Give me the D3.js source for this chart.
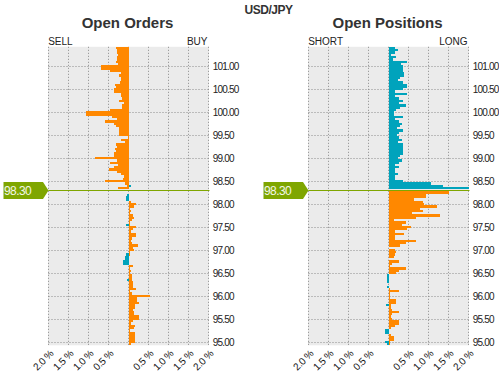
<!DOCTYPE html>
<html>
<head>
<meta charset="utf-8">
<script src="https://cdn.jsdelivr.net/npm/d3@7"></script>
<style>
  body { margin: 0; background: #fff; }
  text { font-family: "Liberation Sans", Arial, sans-serif; }
</style>
</head>
<body>
<svg id="js-svg" width="499" height="371"></svg>
<script>
const pair = "USD/JPY";
const currentPrice = 98.30;
// 0.05 buckets, from 101.40 down to 94.95
const bucketPrices = d3.range(130).map((i) => +(101.4 - i * 0.05).toFixed(2));
const priceTicks = [95, 95.5, 96, 96.5, 97, 97.5, 98, 98.5, 99, 99.5, 100, 100.5, 101];
const pctTicks = [-2, -1.5, -1, -0.5, 0.5, 1, 1.5, 2];

// open orders, % of total per bucket
const ordersSell = [
  0.31, 0.28, 0.29, 0.27, 0.30, 0.29, 0.31, 0.27, 0.68, 0.68,
  0.475, 0.20, 0.23, 0.18, 0.20, 0.21, 0.33, 0.31, 0.375, 0.36,
  0.19, 0.19, 0.16, 0.23, 0.125, 0.16, 0.16, 0.46, 1.06, 1.06,
  0.42, 0.28, 0.58, 0.375, 0.32, 0.23, 0.23, 0.23, 0.23, 0.01,
  0.18, 0.09, 0.31, 0.28, 0.33, 0.31, 0.36, 0.36, 0.83, 0.29,
  0.46, 0.27, 0.36, 0.48, 0.28, 0.19, 0.125, 0.13, 0.58, 0.08,
  0.04, 0.27, 0, 0, 0.03, 0.06, 0.06, 0, 0, 0,
  0, 0, 0, 0, 0, 0, 0, 0.06, 0, 0,
  0, 0, 0, 0, 0, 0, 0, 0, 0, 0,
  0.06, 0.10, 0.10, 0.13, 0.13, 0, 0, 0, 0, 0,
  0, 0.04, 0, 0, 0, 0, 0, 0, 0, 0,
  0, 0, 0, 0, 0, 0, 0, 0, 0, 0,
  0, 0, 0, 0, 0, 0, 0, 0, 0, 0,
];
const ordersBuy = [
  0, 0, 0, 0, 0, 0, 0, 0, 0, 0,
  0, 0, 0, 0, 0, 0, 0, 0, 0, 0,
  0, 0, 0, 0, 0, 0, 0, 0, 0, 0,
  0, 0, 0, 0, 0, 0, 0, 0, 0, 0,
  0, 0, 0, 0, 0, 0, 0, 0, 0, 0,
  0, 0, 0, 0, 0, 0, 0, 0, 0, 0,
  0.06, 0, 0, 0, 0, 0, 0, 0.05, 0.19, 0.125,
  0.03, 0.07, 0.04, 0.11, 0.14, 0.08, 0.04, 0.04, 0.19, 0.11,
  0.07, 0.19, 0.19, 0.08, 0.07, 0.08, 0.23, 0.12, 0.125, 0.04,
  0.03, 0.02, 0.02, 0.02, 0.02, 0.11, 0.04, 0.07, 0.04, 0.08,
  0.09, 0.08, 0.10, 0.10, 0.12, 0.19, 0.04, 0.08, 0.54, 0.21,
  0.21, 0.25, 0.17, 0.15, 0.12, 0.14, 0.14, 0.27, 0.27, 0.12,
  0.07, 0.17, 0.14, 0.04, 0.17, 0.15, 0.15, 0.17, 0.17, 0.07,
];

// open positions, % of total per bucket
const positionsShort = [
  0, 0, 0, 0, 0, 0, 0, 0, 0, 0,
  0, 0, 0, 0, 0, 0, 0, 0, 0, 0,
  0, 0, 0, 0, 0, 0, 0, 0, 0, 0,
  0, 0, 0, 0, 0, 0, 0, 0, 0, 0,
  0, 0, 0, 0, 0, 0, 0, 0, 0, 0,
  0, 0, 0, 0, 0, 0, 0, 0, 0, 0,
  0, 0, 0, 0, 0, 0, 0, 0, 0, 0,
  0, 0, 0, 0, 0, 0, 0, 0, 0, 0,
  0, 0, 0, 0, 0, 0, 0, 0, 0, 0,
  0, 0, 0, 0, 0, 0, 0, 0, 0, 0.04,
  0.04, 0.04, 0.04, 0, 0.03, 0, 0, 0, 0, 0,
  0, 0, 0.06, 0, 0, 0, 0, 0, 0, 0,
  0, 0, 0, 0.08, 0.08, 0, 0, 0, 0.08, 0.03,
];
const positionsLong = [
  0.17, 0.23, 0.17, 0.07, 0.18, 0.10, 0.46, 0.32, 0.35, 0.37,
  0.37, 0.38, 0.38, 0.29, 0.23, 0.37, 0.46, 0.46, 0.37, 0.17,
  0.46, 0.15, 0.25, 0.37, 0.25, 0.43, 0.29, 0.18, 0.125, 0.125,
  0.37, 0.15, 0.25, 0.33, 0.29, 0.21, 0.35, 0.25, 0.21, 0.25,
  0.33, 0.23, 0.37, 0.37, 0.37, 0.37, 0.37, 0.29, 0.23, 0.33,
  0.25, 0.15, 0.25, 0.17, 0.15, 0.23, 0.15, 0.15, 0.37, 1.07,
  1.36, 2.10, 0, 1.50, 0.94, 0.94, 0.64, 0.86, 0.875, 1.22,
  0.79, 0.86, 0.58, 1.29, 0.69, 0.14, 0.44, 0.33, 0.57, 0.46,
  0.17, 0.39, 0.17, 0.17, 0.69, 0.44, 0.29, 0.02, 0.17, 0.19,
  0.17, 0.125, 0.02, 0.27, 0.08, 0.03, 0.44, 0.25, 0.19, 0,
  0, 0, 0, 0, 0, 0.04, 0.25, 0.04, 0.03, 0.03,
  0.19, 0.19, 0.05, 0.06, 0.08, 0.25, 0.08, 0.06, 0.08, 0.27,
  0.27, 0.17, 0.05, 0, 0, 0.06, 0.14, 0.14, 0.03, 0.03,
];

const orange = "#ff8800";
const teal = "#00a3bc";
const green = "#7fa600";

const svg = d3.select("#js-svg");
const yScale = d3.scaleLinear().domain([94.925, 101.425]).range([345.3, 46.8]);
const priceY = yScale(currentPrice);

svg.append("text")
  .attr("x", 268.5).attr("y", 14)
  .attr("text-anchor", "middle")
  .attr("font-size", 12).attr("font-weight", "bold")
  .attr("letter-spacing", -0.5)
  .attr("fill", "#333")
  .text(pair);

const drawPanel = (x0, x1, title, leftLabel, rightLabel, leftVals, rightVals) => {
  const xs = d3.scaleLinear().domain([-2, 2]).range([x0, x1]).clamp(true);
  const g = svg.append("g");

  g.append("text")
    .attr("x", (x0 + x1) / 2 - 1).attr("y", 28.3)
    .attr("text-anchor", "middle")
    .attr("font-size", 15).attr("font-weight", "bold")
    .attr("fill", "#333")
    .text(title);
  g.append("text")
    .attr("x", x0 - 0.3).attr("y", 44.5)
    .attr("font-size", 10).attr("fill", "#222")
    .text(leftLabel);
  g.append("text")
    .attr("x", x1 - 1).attr("y", 44.5)
    .attr("text-anchor", "end")
    .attr("font-size", 10).attr("fill", "#222")
    .text(rightLabel);

  g.append("rect")
    .attr("x", x0 - 0.5).attr("y", yScale.range()[1])
    .attr("width", x1 - x0 + 1)
    .attr("height", yScale.range()[0] - yScale.range()[1])
    .attr("fill", "#ebebeb");

  // dotted grid
  g.selectAll(".vgrid")
    .data(d3.range(-2, 2.01, 0.5))
    .join("line")
    .attr("class", "vgrid")
    .attr("x1", (d) => Math.round(xs(d) - 0.5) + 0.5)
    .attr("x2", (d) => Math.round(xs(d) - 0.5) + 0.5)
    .attr("y1", yScale.range()[1]).attr("y2", yScale.range()[0])
    .attr("stroke", "#8a8a8a").attr("stroke-dasharray", "1,2");
  g.selectAll(".hgrid")
    .data(priceTicks)
    .join("line")
    .attr("class", "hgrid")
    .attr("x1", x0).attr("x2", x1 + 1)
    .attr("y1", (d) => Math.round(yScale(d)) + 0.5)
    .attr("y2", (d) => Math.round(yScale(d)) + 0.5)
    .attr("stroke", "#8a8a8a").attr("stroke-dasharray", "1,2");

  const rows = bucketPrices.map((p, i) => ({ p, left: leftVals[i], right: rightVals[i] }));
  const barY = (d) => yScale(d.p + 0.025);
  const barH = (d) => yScale(d.p - 0.025) - yScale(d.p + 0.025);

  g.selectAll(".lbar")
    .data(rows.filter((d) => d.left > 0))
    .join("rect")
    .attr("class", "lbar")
    .attr("x", (d) => xs(-d.left))
    .attr("width", (d) => xs(0) - xs(-d.left))
    .attr("y", barY).attr("height", barH)
    .attr("fill", (d) => (d.p > currentPrice ? orange : teal))
    .attr("shape-rendering", "crispEdges");
  g.selectAll(".rbar")
    .data(rows.filter((d) => d.right > 0))
    .join("rect")
    .attr("class", "rbar")
    .attr("x", xs(0))
    .attr("width", (d) => xs(d.right) - xs(0))
    .attr("y", barY).attr("height", barH)
    .attr("fill", (d) => (d.p < currentPrice ? orange : teal))
    .attr("shape-rendering", "crispEdges");

  // price axis on the right
  const yAxis = g.append("g")
    .attr("transform", `translate(${x1 + 4.2},0)`)
    .call(d3.axisRight(yScale).tickValues(priceTicks).tickSize(0).tickPadding(0).tickFormat(d3.format(".2f")));
  yAxis.select(".domain").remove();
  yAxis.selectAll("text")
    .attr("font-family", null).attr("font-size", 10)
    .attr("letter-spacing", -0.8).attr("fill", "#222")
    .attr("dy", "0.36em");

  // percent axis, rotated labels
  const xAxis = g.append("g")
    .attr("transform", `translate(0,${yScale.range()[0]})`)
    .call(d3.axisBottom(xs).tickValues(pctTicks).tickSize(0)
      .tickFormat((d) => d3.format(".1f")(Math.abs(d)) + " %"));
  xAxis.select(".domain").remove();
  xAxis.selectAll("text")
    .attr("font-family", null).attr("font-size", 10)
    .attr("letter-spacing", -0.4).attr("fill", "#111")
    .attr("x", 0).attr("y", 0).attr("dy", null)
    .attr("text-anchor", "end")
    .attr("transform", "translate(5,9) rotate(-45)");

  // current price marker
  g.append("line")
    .attr("x1", x0).attr("x2", x1 + 1)
    .attr("y1", Math.round(priceY) + 0.5).attr("y2", Math.round(priceY) + 0.5)
    .attr("stroke", green);
  const ty = Math.round(priceY) + 0.5;
  g.append("path")
    .attr("d", `M${x0 - 45},${ty - 8.5}H${x0 - 5.5}L${x0},${ty}L${x0 - 5.5},${ty + 8.5}H${x0 - 45}Z`)
    .attr("fill", green);
  g.append("text")
    .attr("x", x0 - 44.5).attr("y", ty + 4.3)
    .attr("font-size", 12).attr("letter-spacing", -0.6)
    .attr("fill", "#f4f8e8")
    .text(currentPrice.toFixed(2));
};

drawPanel(48.5, 208.5, "Open Orders", "SELL", "BUY", ordersSell, ordersBuy);
drawPanel(308.5, 468.5, "Open Positions", "SHORT", "LONG", positionsShort, positionsLong);
</script>
</body>
</html>
